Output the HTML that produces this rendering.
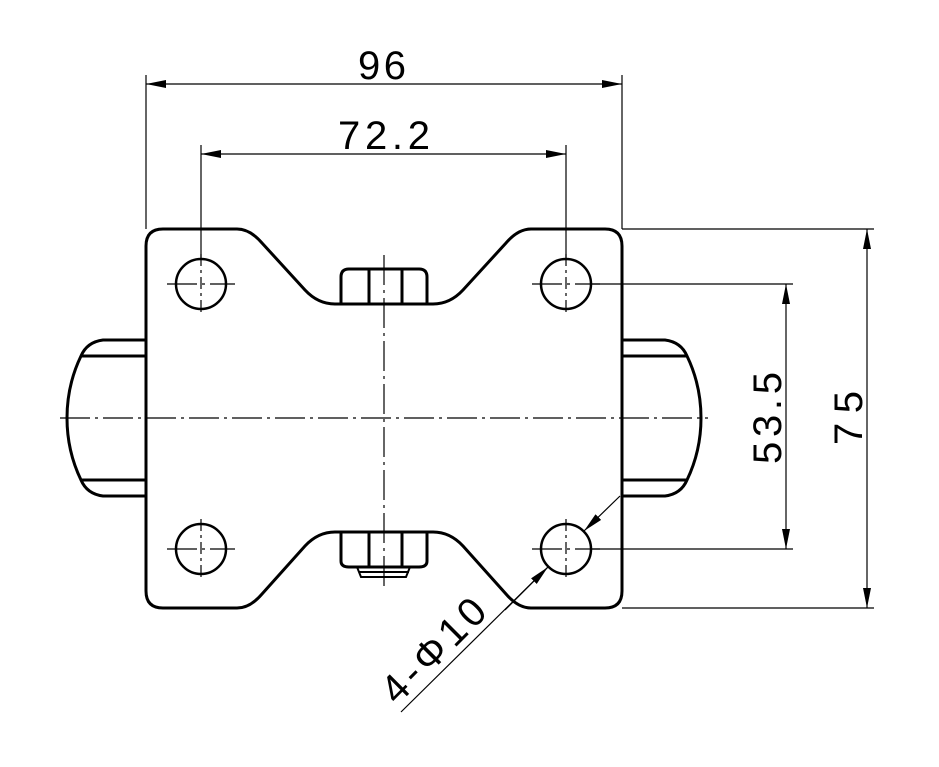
<!DOCTYPE html>
<html><head><meta charset="utf-8"><style>html,body{margin:0;padding:0;background:#fff}svg{display:block}</style></head><body>
<svg width="939" height="767" viewBox="0 0 939 767" xmlns="http://www.w3.org/2000/svg">
<defs>
<marker id="a" viewBox="0 0 20 8" refX="20" refY="4" markerWidth="20" markerHeight="8" markerUnits="userSpaceOnUse" orient="auto"><path d="M0,0 L20,4 L0,8 Z" fill="#000"/></marker>
</defs>
<g fill="none" stroke="#000" stroke-width="3">
<path d="M146,246 Q146,229 163,229 L237,229 Q250,229 262,243 L305,290 Q318,304 335,304 L433,304 Q450,304 463,290 L506,243 Q518,229 531,229 L605,229 Q622,229 622,246 L622,591 Q622,608 605,608 L531,608 Q518,608 506,594 L463,546 Q450,532 433,532 L335,532 Q318,532 305,546 L262,594 Q250,608 237,608 L163,608 Q146,608 146,591 Z"/>
<path d="M341,304 L341,277 Q341,269 349,269 L419,269 Q427,269 427,277 L427,304"/>
<path d="M369,269 V304 M402,269 V304"/>
<path d="M341,532 L341,561 Q341,567 349,567 L419,567 Q427,567 427,561 L427,532"/>
<path d="M369,532 V567 M402,532 V567"/>
<path d="M357,567 L361,577 L406,577 L410,567 M359,572 H409" stroke-width="2"/>
<path d="M146,340 L103,340 Q87,342 81,356 Q67,385 67,418 Q67,451 81,480 Q87,494 103,496 L146,496 M81,356 H146 M81,480 H146"/>
<path d="M622,340 L665,340 Q681,342 687,356 Q701,385 701,418 Q701,451 687,480 Q681,494 665,496 L622,496 M687,356 H622 M687,480 H622"/>
<circle cx="201" cy="284" r="25" stroke-width="2.5"/>
<circle cx="566" cy="284" r="25" stroke-width="2.5"/>
<circle cx="201" cy="549" r="25" stroke-width="2.5"/>
<circle cx="566" cy="549" r="25" stroke-width="2.5"/>
</g>
<g fill="none" stroke="#000" stroke-width="1.2" stroke-dasharray="30,5,3,5">
<path d="M60,418 H708"/>
<path d="M384,255 V590"/>
<path d="M167,284 H235 M532,284 H600 M167,549 H235 M532,549 H600"/>
<path d="M201,254 V314 M566,254 V314 M201,519 V579 M566,519 V579" stroke-dasharray="12,4,3,4"/>
</g>
<g fill="none" stroke="#000" stroke-width="1.2">
<path d="M146,75 V229 M622,75 V229"/>
<path d="M384,84 H146" marker-end="url(#a)"/><path d="M384,84 H622" marker-end="url(#a)"/>
<path d="M201,145 V260 M566,145 V260"/>
<path d="M384,154 H201" marker-end="url(#a)"/><path d="M384,154 H566" marker-end="url(#a)"/>
<path d="M622,229 H874 M622,608 H874"/>
<path d="M867,418 V229" marker-end="url(#a)"/><path d="M867,418 V608" marker-end="url(#a)"/>
<path d="M591,284 H793 M591,549 H793"/>
<path d="M786,418 V284" marker-end="url(#a)"/><path d="M786,418 V549" marker-end="url(#a)"/>
<path d="M401,712 L548,567" /><path d="M505,610 L548,567" marker-end="url(#a)"/>
<path d="M620,496 L584,531" marker-end="url(#a)"/>
</g>
<g font-family="Liberation Sans, sans-serif" font-size="40" fill="#000" text-anchor="middle" font-weight="normal">
<text x="382" y="79" textLength="48">96</text>
<text x="384" y="149" textLength="92">72.2</text>
<text transform="translate(862,418) rotate(-90)" textLength="54">75</text>
<text transform="translate(781,418) rotate(-90)" textLength="92">53.5</text>
<text transform="translate(443,660) rotate(-45)" textLength="130">4-Φ10</text>
</g>
</svg>
</body></html>
